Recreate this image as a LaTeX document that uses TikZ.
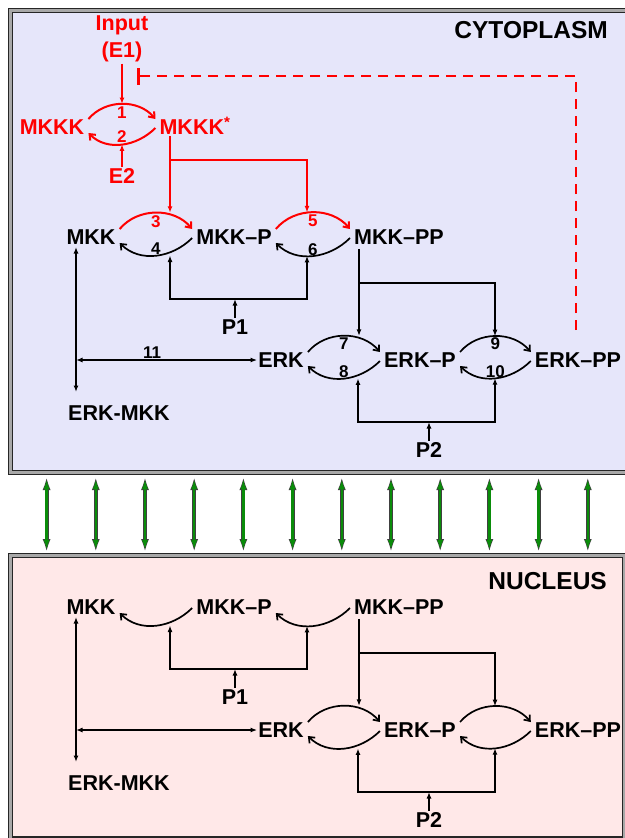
\documentclass[tikz,border=0pt]{standalone}
\usepackage{fontspec}
\setmainfont{Liberation Sans}
\usetikzlibrary{arrows.meta,calc}
\definecolor{cytofill}{HTML}{E6E6FA}
\definecolor{nucfill}{HTML}{FFE8E8}
\definecolor{wallgray}{HTML}{A8A8A8}
\definecolor{poregreen}{HTML}{0A8C0A}
\tikzset{
  wall/.style={draw=black!85,double=wallgray,double distance=2.8pt,line width=1.2pt},
  sp/.style={font=\bfseries\fontsize{21.5}{25}\selectfont,inner sep=1pt,text height=15.5pt,text depth=0pt},
  rsp/.style={sp,text=red},
  rtxt/.style={font=\bfseries\fontsize{21.5}{27.5}\selectfont,text=red,inner sep=1pt,align=center},
  num/.style={font=\bfseries\fontsize{17}{19}\selectfont,inner sep=0.5pt,text height=12pt,text depth=0pt},
  rnum/.style={num,text=red},
  comp/.style={font=\bfseries\fontsize{24.5}{28}\selectfont,inner sep=0pt},
  cyc/.style={-{Straight Barb[length=5pt,width=8pt]},line width=1.7pt},
  rcyc/.style={cyc,draw=red,line width=2pt},
  arr/.style={-{Latex[length=6.5pt,width=5pt]},line width=1.6pt},
  barr/.style={{Latex[length=6.5pt,width=5pt]}-{Latex[length=6.5pt,width=5pt]},line width=1.6pt},
  rarr/.style={arr,draw=red,line width=2pt},
  inh/.style={-{Bar[width=17pt,line width=2.8pt]},draw=red,line width=2.8pt,dash pattern=on 10pt off 7pt},
  pore/.style={{Latex[length=14pt,width=8pt]}-{Latex[length=14pt,width=8pt]},draw=black!75,line width=4pt},
  porein/.style={{Latex[length=12pt,width=5.6pt]}-{Latex[length=12pt,width=5.6pt]},draw=poregreen,line width=2.4pt,shorten <=1pt,shorten >=1pt},
}
\begin{document}
\begin{tikzpicture}[x=1pt,y=-1pt]
  \useasboundingbox (0,0) rectangle (624,838);
  % compartments
  \draw[wall,fill=cytofill] (10.8,10.8) rectangle (640,472.5);
  \draw[wall,fill=nucfill] (10.8,555.5) rectangle (624.5,839);
  \node[comp,anchor=east] (cytolbl) at (608,30) {CYTOPLASM};
  \node[comp,anchor=east] (nuclbl) at (607,581) {NUCLEUS};

  % transport between cytoplasm and nucleus
  \foreach \i in {0,...,11}{
    \coordinate (pt\i) at ({46.6+49.2*\i},476);
    \coordinate (pb\i) at ({46.6+49.2*\i},553);
    \draw[pore] (pt\i) -- (pb\i);
    \draw[porein] (pt\i) -- (pb\i);
  }

  % MKK / ERK module, same in both compartments
  \foreach \dy/\pre in {0/c,370/n}{
  \begin{scope}[shift={(0,\dy)},name prefix=\pre-]
    \node[sp] (mkk) at (91,237) {MKK};
    \node[sp] (mkkp) at (234,237) {MKK--P};
    \node[sp] (mkkpp) at (399,237) {MKK--PP};
    \node[sp] (erk) at (281,360) {ERK};
    \node[sp] (erkp) at (420,360) {ERK--P};
    \node[sp] (erkpp) at (578,360) {ERK--PP};
    \node[sp] (erkmkk) at (119,413) {ERK-MKK};
    \node[sp] (pone) at (235,327) {P1};
    \node[sp] (ptwo) at (429,450) {P2};
    \coordinate (h1l) at (170,299);
    \coordinate (h1r) at (307,299);
    \coordinate (k1) at (359,283);
    \coordinate (k2) at (495,283);
    \coordinate (h2l) at (358,422);
    \coordinate (h2r) at (495,422);
    \coordinate (v1) at (76,247);
    \coordinate (v2) at (76,392);

    \draw[cyc] ([xshift=-3pt,yshift=-1pt]mkkp.west) to[out=-135,in=-45] coordinate[pos=.5] (b34) ([xshift=3pt,yshift=-6pt]mkk.east);
    \draw[cyc] ([xshift=-3pt,yshift=-1pt]mkkpp.west) to[out=-135,in=-45] coordinate[pos=.5] (b56) ([xshift=3pt,yshift=-6pt]mkkp.east);
    \draw[cyc] ([xshift=3pt,yshift=8pt]erk.east) to[out=50,in=130] coordinate[pos=.5] (t78) ([xshift=-3pt,yshift=8pt]erkp.west);
    \draw[cyc] ([xshift=-3pt,yshift=-1pt]erkp.west) to[out=-135,in=-45] coordinate[pos=.5] (b78) ([xshift=3pt,yshift=-6pt]erk.east);
    \draw[cyc] ([xshift=3pt,yshift=8pt]erkp.east) to[out=50,in=130] coordinate[pos=.5] (t910) ([xshift=-3pt,yshift=8pt]erkpp.west);
    \draw[cyc] ([xshift=-3pt,yshift=-1pt]erkpp.west) to[out=-135,in=-45] coordinate[pos=.5] (b910) ([xshift=3pt,yshift=-6pt]erkp.east);

    \draw[barr] (h1l |- b34) -- (h1l) -- (h1r) -- (h1r |- b56);
    \draw[arr] (pone.north) -- (pone.north |- h1l);
    \draw[barr] (h2l |- b78) -- (h2l) -- (h2r) -- (h2r |- b910);
    \draw[arr] (ptwo.north) -- (ptwo.north |- h2l);
    \draw[arr,shorten <=3pt] (mkkpp.south -| k1) -- (k1 |- t78);
    \draw[arr] (k1) -| (k2 |- t910);
    \draw[barr] (v1) -- (v2);
    \draw[barr] (v1 |- erk) -- coordinate[pos=.42] (m11) (erk.west);
  \end{scope}
  }

  % cytoplasm only: MKKK cycle, activation and feedback
  \begin{scope}[name prefix=c-]
    \node[rtxt] (inp) at (122,39) {Input\\(E1)};
    \node[rsp] (mkkk) at (52,127) {MKKK};
    \node[rsp] (mkkks) at (195,127) {MKKK\textsuperscript{*}};
    \node[rsp] (etwo) at (122,176) {E2};
    \coordinate (r0) at (170,160);
    \coordinate (r1) at (307,160);
    \coordinate (dcorner) at (576,76);
    \coordinate (dbar) at (137,76);

    \draw[rcyc] ([xshift=3pt,yshift=8pt]mkkk.east) to[out=50,in=130] node[rnum,pos=.5,below=1pt] (l1) {1} coordinate[pos=.5] (t12) ([xshift=-3pt,yshift=8pt]mkkks.west);
    \draw[rcyc] ([xshift=-3pt,yshift=-1pt]mkkks.west) to[out=-135,in=-45] node[rnum,pos=.5,above=0pt] (l2) {2} coordinate[pos=.5] (b12) ([xshift=3pt,yshift=-6pt]mkkk.east);
    \draw[rarr] (inp.south) -- (inp.south |- t12);
    \draw[rarr] (etwo.north) -- (etwo.north |- b12);

    \draw[rcyc] ([xshift=3pt,yshift=8pt]mkk.east) to[out=50,in=130] node[rnum,pos=.5,below=1pt] (l3) {3} coordinate[pos=.5] (t34) ([xshift=-3pt,yshift=8pt]mkkp.west);
    \draw[rcyc] ([xshift=3pt,yshift=8pt]mkkp.east) to[out=50,in=130] node[rnum,pos=.5,below=1pt] (l5) {5} coordinate[pos=.5] (t56) ([xshift=-3pt,yshift=8pt]mkkpp.west);
    \draw[rarr] (mkkks.south -| r0) -- (r0 |- t34);
    \draw[rarr] (r0) -| (r1 |- t56);

    \node[num,above=0pt] (l4) at (b34) {4};
    \node[num,above=0pt] (l6) at (b56) {6};
    \node[num,below=1pt] (l7) at (t78) {7};
    \node[num,above=0pt] (l8) at (b78) {8};
    \node[num,below=1pt] (l9) at (t910) {9};
    \node[num,above=0pt] (l10) at (b910) {10};
    \node[num,above=1pt] (l11) at (m11) {11};

    \draw[inh] (erkpp.north -| dcorner) ++(0,-21) -- (dcorner) -- (dbar);
  \end{scope}
\end{tikzpicture}
\end{document}
